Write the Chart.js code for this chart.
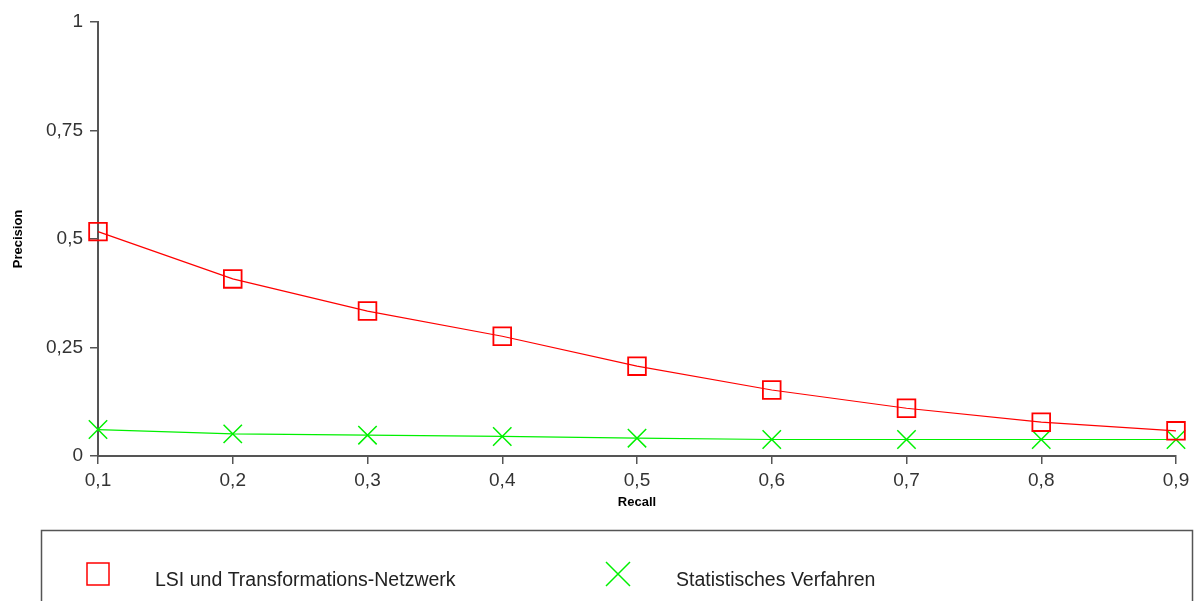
<!DOCTYPE html>
<html lang="de">
<head>
<meta charset="utf-8">
<title>Precision / Recall</title>
<script src="https://cdn.jsdelivr.net/npm/chart.js@4/dist/chart.umd.min.js"></script>
<style>
  html, body { margin: 0; padding: 0; background: #fff; }
  #wrap { width: 1199px; height: 601px; position: relative; }
</style>
</head>
<body>
<div id="wrap"><canvas id="chart"></canvas></div>
<script>
// Recall-Stufen (x) und Precision-Werte der beiden Verfahren
const recall = [0.1, 0.2, 0.3, 0.4, 0.5, 0.6, 0.7, 0.8, 0.9];
const lsiPrecision = [0.517, 0.408, 0.334, 0.276, 0.207, 0.152, 0.110, 0.078, 0.058];
const statPrecision = [0.061, 0.051, 0.048, 0.045, 0.041, 0.038, 0.038, 0.038, 0.038];
const yTicks = [0, 0.25, 0.5, 0.75, 1];
const seriesNames = ['LSI und Transformations-Netzwerk', 'Statistisches Verfahren'];

const FONT = 'Liberation Sans, Arial, sans-serif';
const deZahl = v => String(v).replace('.', ',');

// Legende als Kasten unter dem Diagramm
const boxLegend = {
  id: 'boxLegend',
  afterDraw(chart) {
    const ctx = chart.ctx;
    ctx.save();
    ctx.strokeStyle = '#555';
    ctx.lineWidth = 1.5;
    ctx.strokeRect(41.5, 530.5, 1151, 80);

    const items = [
      { x: 98, tx: 155 },
      { x: 618, tx: 676 }
    ];
    const cy = 574;
    chart.data.datasets.forEach((ds, i) => {
      const it = items[i];
      ctx.strokeStyle = ds.borderColor;
      ctx.lineWidth = 1.5;
      ctx.beginPath();
      if (ds.pointStyle === 'rect') {
        ctx.rect(it.x - 11, cy - 11, 22, 22);
      } else {
        ctx.moveTo(it.x - 12, cy - 12); ctx.lineTo(it.x + 12, cy + 12);
        ctx.moveTo(it.x + 12, cy - 12); ctx.lineTo(it.x - 12, cy + 12);
      }
      ctx.stroke();
      ctx.fillStyle = '#222';
      ctx.font = '19.5px ' + FONT;
      ctx.textBaseline = 'alphabetic';
      ctx.fillText(ds.label, it.tx, 586);
    });
    ctx.restore();
  }
};

const ctx = document.getElementById('chart').getContext('2d');

new Chart(ctx, {
  type: 'line',
  data: {
    datasets: [{
      label: seriesNames[0],
      data: recall.map((r, i) => ({ x: r, y: lsiPrecision[i] })),
      borderColor: '#ff0000',
      backgroundColor: 'rgba(0,0,0,0)',
      borderWidth: 1.2,
      pointStyle: 'rect',
      pointRadius: 12.5,
      pointBorderWidth: 1.8,
      pointBackgroundColor: 'rgba(0,0,0,0)',
      pointBorderColor: '#ff0000',
      tension: 0,
      clip: false
    }, {
      label: seriesNames[1],
      data: recall.map((r, i) => ({ x: r, y: statPrecision[i] })),
      borderColor: '#00f000',
      backgroundColor: 'rgba(0,0,0,0)',
      borderWidth: 1.2,
      pointStyle: 'crossRot',
      pointRadius: 13,
      pointBorderWidth: 1.5,
      pointBorderColor: '#00f000',
      tension: 0,
      clip: false
    }]
  },
  options: {
    responsive: true,
    maintainAspectRatio: false,
    animation: false,
    layout: { padding: { top: 22, right: 23, bottom: 85, left: 0 } },
    plugins: {
      legend: { display: false },
      tooltip: { enabled: false }
    },
    scales: {
      x: {
        type: 'linear',
        min: 0.1,
        max: 0.9,
        afterFit: s => { s.height = 60; },
        afterBuildTicks: s => { s.ticks = recall.map(v => ({ value: v })); },
        border: { color: '#555', width: 2 },
        grid: { drawOnChartArea: false, drawTicks: true, tickLength: 8, color: '#555', lineWidth: 1.5 },
        ticks: {
          color: '#333',
          font: { family: FONT, size: 19 },
          padding: 5,
          maxRotation: 0,
          callback: v => deZahl(v)
        },
        title: {
          display: true,
          text: 'Recall',
          color: '#000',
          font: { family: FONT, size: 13, weight: 'bold' },
          padding: { top: 2, bottom: 6 }
        }
      },
      y: {
        min: 0,
        max: 1,
        afterFit: s => { s.width = 98; },
        afterBuildTicks: s => { s.ticks = yTicks.map(v => ({ value: v })); },
        border: { color: '#555', width: 2 },
        grid: { drawOnChartArea: false, drawTicks: true, tickLength: 8, color: '#555', lineWidth: 1.5 },
        ticks: {
          color: '#333',
          font: { family: FONT, size: 19 },
          padding: 7,
          callback: v => deZahl(v)
        },
        title: {
          display: true,
          text: 'Precision',
          color: '#000',
          font: { family: FONT, size: 13, weight: 'bold' },
          padding: { top: 11, bottom: 0 }
        }
      }
    }
  },
  plugins: [boxLegend]
});
</script>
</body>
</html>
